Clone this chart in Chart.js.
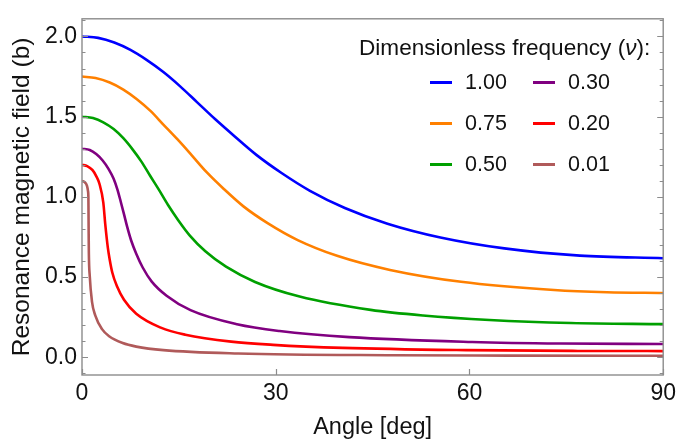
<!DOCTYPE html>
<html>
<head>
<meta charset="utf-8">
<script src="https://cdn.jsdelivr.net/npm/chart.js@4.4.1/dist/chart.umd.min.js"></script>
<style>
  body { margin: 0; background: #fff; overflow: hidden; }
  #wrap { position: relative; width: 681px; height: 443px; }
  #legendTitle {
    position: absolute; left: 359px; top: 35px;
    font: 22.6px "Liberation Sans", Arial, sans-serif; color: #111; white-space: nowrap;
    line-height: 26px;
  }
  #legend {
    position: absolute; left: 430px; top: 62px;
    display: grid; grid-auto-flow: column;
    grid-template-columns: 103px 103px; grid-template-rows: 41px 41px 41px;
    align-items: center;
    font: 21.5px "Liberation Sans", Arial, sans-serif; color: #111;
  }
  .item { display: flex; align-items: center; }
  .swatch { width: 22px; height: 3px; margin-right: 13px; }
</style>
</head>
<body>
<div id="wrap">
  <canvas id="myChart" width="681" height="443"></canvas>
  <div id="legendTitle">Dimensionless frequency (<i>ν</i>):</div>
  <div id="legend"></div>
</div>
<script>
// 범례 라벨
const seriesLabels = ['1.00', '0.75', '0.50', '0.30', '0.20', '0.01'];
const seriesColors = ['#0000ff', '#ff8000', '#00a000', '#800080', '#ff0000', '#b05a5a'];

// 각도 / 공명 자기장 값
const angle100 = [0, 2.5, 5.0, 7.5, 10.0, 12.6, 15.2, 17.8, 20.6, 23.7, 27.0, 30.9, 35.3, 40.7, 47.3, 55.5, 65.4, 77.1, 90];
const field100 = [2.000, 1.991, 1.962, 1.916, 1.854, 1.778, 1.689, 1.591, 1.485, 1.375, 1.262, 1.149, 1.038, 0.931, 0.833, 0.747, 0.679, 0.634, 0.618];

const angle075 = [0, 2.1, 4.3, 6.4, 8.5, 10.6, 12.6, 14.8, 17.0, 19.3, 22.0, 25.0, 28.8, 33.4, 39.5, 47.7, 58.7, 73.1, 81.3, 90];
const field075 = [1.750, 1.741, 1.713, 1.669, 1.609, 1.536, 1.451, 1.358, 1.259, 1.154, 1.048, 0.941, 0.835, 0.731, 0.633, 0.545, 0.471, 0.420, 0.406, 0.401];

const angle050 = [0, 1.7, 3.3, 4.9, 6.4, 7.8, 9.2, 10.5, 11.9, 13.3, 14.9, 16.7, 19.1, 22.3, 26.8, 33.7, 44.7, 52.8, 63.1, 75.7, 90];
const field050 = [1.500, 1.491, 1.465, 1.423, 1.366, 1.298, 1.220, 1.135, 1.045, 0.951, 0.855, 0.759, 0.661, 0.565, 0.470, 0.379, 0.296, 0.261, 0.233, 0.214, 0.207];

const angle030 = [0, 1.2, 2.2, 3.2, 4.1, 4.9, 5.5, 6.0, 6.5, 7.0, 7.6, 8.4, 9.4, 10.8, 13.1, 16.8, 24.0, 30.6, 41.4, 60.4, 74.1, 90];
const field030 = [1.300, 1.292, 1.267, 1.227, 1.175, 1.113, 1.044, 0.970, 0.893, 0.813, 0.730, 0.646, 0.560, 0.472, 0.384, 0.294, 0.206, 0.164, 0.126, 0.096, 0.086, 0.083];

const angle020 = [0, 0.8, 1.6, 2.2, 2.7, 3.3, 3.6, 4.0, 4.3, 4.7, 5.4, 6.5, 8.4, 12.2, 16.0, 23.1, 29.6, 40.4, 59.5, 76.8, 90];
const field020 = [1.200, 1.192, 1.168, 1.130, 1.082, 0.964, 0.830, 0.684, 0.607, 0.527, 0.444, 0.359, 0.272, 0.185, 0.141, 0.098, 0.078, 0.059, 0.045, 0.040, 0.039];

const angle001 = [0, 0.42, 0.76, 0.93, 0.99, 1.01, 1.03, 1.06, 1.2, 1.55, 2.05, 3.1, 4.2, 6.3, 8.4, 12.6, 24.2, 48.3, 66.0, 90];
const field001 = [1.100, 1.092, 1.070, 1.036, 0.994, 0.897, 0.784, 0.654, 0.507, 0.346, 0.262, 0.176, 0.132, 0.089, 0.067, 0.045, 0.024, 0.013, 0.011, 0.010];

// 축 눈금
const xTicks = [0, 30, 60, 90];
const yTicks = [0, 0.5, 1.0, 1.5, 2.0];

const angles = [angle100, angle075, angle050, angle030, angle020, angle001];
const fields = [field100, field075, field050, field030, field020, field001];

let datasets = seriesLabels.map((label, i) => ({
    label: label,
    data: angles[i].map((a, k) => ({x: a, y: fields[i][k]})),
    borderColor: seriesColors[i],
    backgroundColor: seriesColors[i],
    borderWidth: 2.6,
    pointRadius: 0,
    cubicInterpolationMode: 'monotone',
    fill: false
}));

// 프레임 + 안쪽 눈금
const frameTicks = {
    id: 'frameTicks',
    afterDatasetsDraw(chart) {
        const {ctx, chartArea: a, scales: {x, y}} = chart;
        ctx.save();
        ctx.strokeStyle = '#8c8c8c';
        ctx.lineWidth = 1.4;
        ctx.strokeRect(a.left, a.top, a.right - a.left, a.bottom - a.top);
        ctx.lineWidth = 1.2;
        ctx.beginPath();
        for (let i = -1; i <= 21; i++) {
            let v = i / 10;
            if (v < y.min || v > y.max) continue;
            let p = Math.round(y.getPixelForValue(v)) + 0.5;
            let len = (i % 5 === 0) ? 6 : 3.5;
            ctx.moveTo(a.left, p); ctx.lineTo(a.left + len, p);
            ctx.moveTo(a.right, p); ctx.lineTo(a.right - len, p);
        }
        xTicks.forEach(v => {
            let p = Math.round(x.getPixelForValue(v)) + 0.5;
            ctx.moveTo(p, a.bottom); ctx.lineTo(p, a.bottom - 6);
        });
        ctx.stroke();
        ctx.restore();
    }
};

const chartArea = document.getElementById('myChart').getContext('2d');
const myChart = new Chart(chartArea, {
    type: 'line',
    data: { datasets: datasets },
    options: {
        responsive: false,
        animation: false,
        layout: { padding: { left: 0, top: 13, right: 14, bottom: 0 } },
        plugins: {
            legend: { display: false },
            tooltip: { enabled: false }
        },
        scales: {
            x: {
                type: 'linear',
                min: 0, max: 90,
                afterBuildTicks: s => { s.ticks = xTicks.map(v => ({value: v})); },
                afterFit: s => { s.height = 68; },
                grid: { display: false, drawTicks: false },
                border: { display: false },
                ticks: {
                    color: '#111', padding: 5,
                    font: { family: 'Liberation Sans', size: 23 },
                    maxRotation: 0
                },
                title: {
                    display: true, text: 'Angle [deg]', color: '#111',
                    font: { family: 'Liberation Sans', size: 23.5 },
                    padding: { top: 0, bottom: 1 }
                }
            },
            y: {
                type: 'linear',
                min: -0.11, max: 2.11,
                afterBuildTicks: s => { s.ticks = yTicks.map(v => ({value: v})); },
                afterFit: s => { s.width = 82; },
                grid: { display: false, drawTicks: false },
                border: { display: false },
                ticks: {
                    color: '#111', padding: 5,
                    font: { family: 'Liberation Sans', size: 23 },
                    callback: v => Number(v).toFixed(1)
                },
                title: {
                    display: true, text: 'Resonance magnetic field (b)', color: '#111',
                    font: { family: 'Liberation Sans', size: 24.5 },
                    padding: { top: 8, bottom: 0 }
                }
            }
        }
    },
    plugins: [frameTicks]
});

// 범례 만들기
const legendBox = document.getElementById('legend');
myChart.data.datasets.forEach(ds => {
    let item = document.createElement('div');
    item.className = 'item';
    let sw = document.createElement('span');
    sw.className = 'swatch';
    sw.style.background = ds.borderColor;
    let txt = document.createElement('span');
    txt.textContent = ds.label;
    item.appendChild(sw);
    item.appendChild(txt);
    legendBox.appendChild(item);
});
</script>
</body>
</html>
